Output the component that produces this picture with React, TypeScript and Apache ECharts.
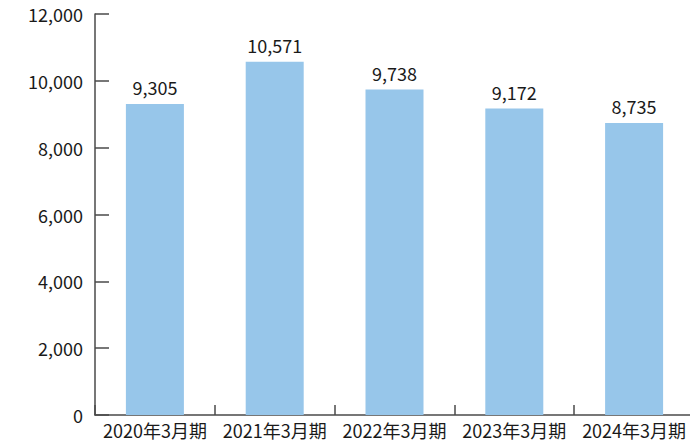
import React, { useEffect, useRef } from "react";
import * as echarts from "echarts";

const categories = ["2020年3月期", "2021年3月期", "2022年3月期", "2023年3月期", "2024年3月期"];
const values = [9305, 10571, 9738, 9172, 8735];
const yMin = 0;
const yMax = 12000;
const yInterval = 2000;

const FONT = "'Noto Sans CJK JP', 'Noto Sans', sans-serif";

export default function App() {
  const ref = useRef<HTMLDivElement>(null);
  useEffect(() => {
    if (!ref.current) return;
    const chart = echarts.init(ref.current, undefined, { renderer: "svg" });
    chart.setOption({
      animation: false,
      backgroundColor: "#ffffff",
      grid: { left: 95, right: 0, top: 14, bottom: 29, containLabel: false },
      xAxis: {
        type: "category",
        data: categories,
        boundaryGap: true,
        axisLine: { show: true, lineStyle: { color: "#4a4a4a", width: 1.5 } },
        axisTick: { show: true, inside: true, length: 10, lineStyle: { color: "#4a4a4a", width: 1.5 } },
        axisLabel: { color: "#1a1a1a", fontSize: 18, lineHeight: 18, fontFamily: FONT, margin: 6, interval: 0 },
      },
      yAxis: {
        type: "value",
        min: yMin,
        max: yMax,
        interval: yInterval,
        splitLine: { show: false },
        axisLine: { show: true, lineStyle: { color: "#4a4a4a", width: 1.5 } },
        axisTick: { show: true, inside: true, length: 14, lineStyle: { color: "#4a4a4a", width: 1.5 } },
        axisLabel: {
          color: "#1a1a1a",
          fontSize: 18,
          fontFamily: FONT,
          margin: 12,
          formatter: (v: number) => v.toLocaleString("en-US"),
        },
      },
      series: [
        {
          type: "bar",
          data: values,
          barWidth: 58,
          itemStyle: { color: "#97C6EA" },
          label: {
            show: true,
            position: "top",
            distance: 8,
            color: "#1a1a1a",
            fontSize: 18,
            fontFamily: FONT,
            formatter: (p: any) => Number(p.value).toLocaleString("en-US"),
          },
        },
      ],
    });
    return () => chart.dispose();
  }, []);
  return (
    <div style={{ position: "absolute", left: 0, top: 0, width: 690, height: 444, overflow: "hidden", background: "#fff" }}>
      <div ref={ref} style={{ width: 694, height: 444 }} />
    </div>
  );
}
